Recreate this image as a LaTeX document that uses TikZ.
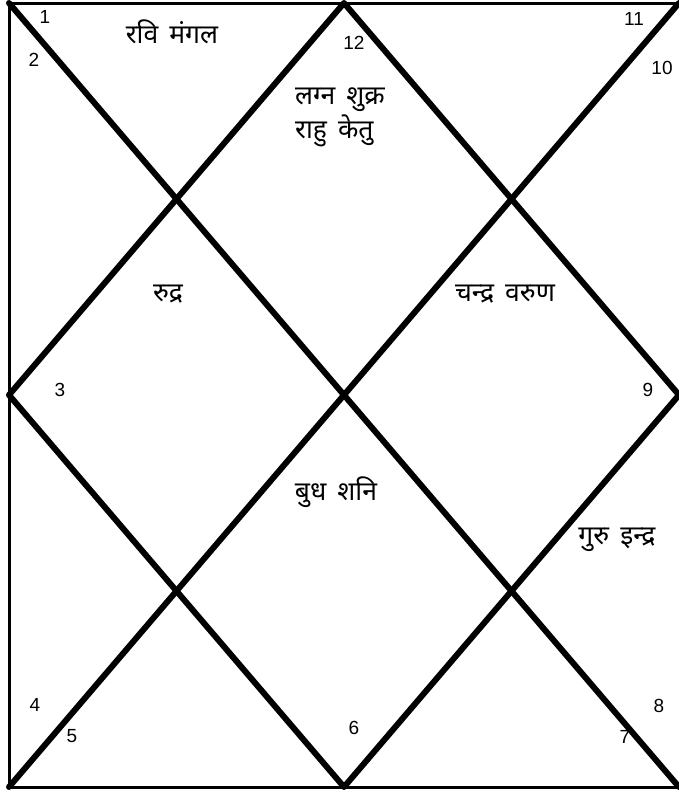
\documentclass[tikz,border=0pt]{standalone}
\usepackage{fontspec}
\setmainfont{Liberation Sans}
\newfontfamily\deva[Script=Devanagari,WordSpace=1.6]{Noto Sans}
\usetikzlibrary{positioning,calc}

\begin{document}
\begin{tikzpicture}[x=1pt,y=-1pt,
  frame/.style={line width=3pt},
  cross/.style={line width=6pt,line cap=round,line join=round},
  num/.style={font=\fontsize{19}{22}\selectfont,inner sep=0pt},
  graha/.style={font=\deva\fontsize{26.5}{34}\selectfont,inner sep=0pt,align=left}]
\useasboundingbox (0,0) rectangle (679,793);
% corners and mid points of the chart
\coordinate (tl) at (9,3);   \coordinate (tr) at (679,3);
\coordinate (bl) at (9,787); \coordinate (br) at (679,787);
\coordinate (t) at (344,3);  \coordinate (b) at (344,787);
\coordinate (l) at (9,395);  \coordinate (r) at (679,395);
\draw[frame] (tr) -- (tl) -- (bl) -- (br);
\draw[cross] (tl) -- (br) (tr) -- (bl);
\draw[cross] (t) -- (r) -- (b) -- (l) -- cycle;
% house numbers
\foreach \n/\x/\y in {1/45/17, 2/34/60, 12/354/43, 11/634/19, 10/662/68,
                      3/60/390, 9/648/390, 4/35/705, 5/72/736, 6/354/728,
                      7/625/737, 8/659/706}
  \node[num] (h\n) at (\x,\y) {\n};
% planets
\node[graha] (g1) at (172,32) {रवि मंगल};
\node[graha,anchor=west] (g12) at (295,117) {लग्न शुक्र\\राहु केतु};
\node[graha] (g3) at (168,294) {रुद्र};
\node[graha] (g11) at (505,294) {चन्द्र वरुण};
\node[graha] (g6) at (336,492) {बुध शनि};
\node[graha] (g8) at (617,540) {गुरु इन्द्र};
\end{tikzpicture}
\end{document}
